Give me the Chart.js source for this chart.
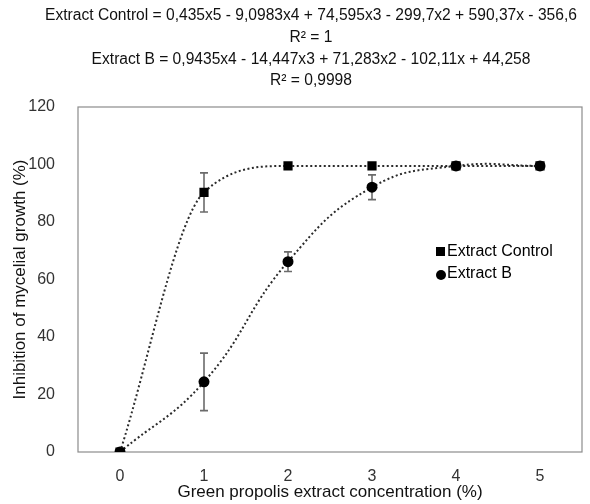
<!DOCTYPE html>
<html>
<head>
<meta charset="utf-8">
<script src="https://cdn.jsdelivr.net/npm/chart.js@4.4.1/dist/chart.umd.min.js"></script>
<style>
  html, body { margin: 0; padding: 0; background: #fff; }
  #wrap { width: 590px; height: 504px; }
</style>
</head>
<body>
<div id="wrap"><canvas id="propolisChart" width="590" height="504"></canvas></div>
<script>
// Chart data
const concentrations = ['0', '1', '2', '3', '4', '5'];
const controlMean = [0, 90.3, 99.5, 99.5, 99.5, 99.5];
const controlErr = [0, 6.8, 0, 0.4, 0, 0];
const extractBMean = [0, 24.4, 66.2, 92.1, 99.5, 99.5];
const extractBErr = [0, 10, 3.4, 4.3, 0, 0];
const yTicks = [0, 20, 40, 60, 80, 100, 120];
const equationLines = [
    'Extract Control = 0,435x5 - 9,0983x4 + 74,595x3 - 299,7x2 + 590,37x - 356,6',
    'R\u00B2 = 1',
    'Extract B = 0,9435x4 - 14,447x3 + 71,283x2 - 102,11x + 44,258',
    'R\u00B2 = 0,9998'
];

const FONT = '"Liberation Sans", Arial, sans-serif';

// frame, error bars, legend and equations
const decorPlugin = {
    id: 'decor',
    beforeDatasetsDraw(chart) {
        const { ctx, chartArea, scales } = chart;
        ctx.save();
        ctx.strokeStyle = '#8c8c8c';
        ctx.lineWidth = 1.2;
        ctx.strokeRect(chartArea.left, chartArea.top, chartArea.width, chartArea.height);

        // error bars
        ctx.strokeStyle = '#6b6b6b';
        ctx.lineWidth = 1.6;
        const drawErr = (means, errs) => {
            means.forEach((m, i) => {
                if (!errs[i]) return;
                const x = scales.x.getPixelForValue(i);
                const yTop = scales.y.getPixelForValue(m + errs[i]);
                const yBot = scales.y.getPixelForValue(m - errs[i]);
                ctx.beginPath();
                ctx.moveTo(x, yTop); ctx.lineTo(x, yBot);
                ctx.moveTo(x - 4, yTop); ctx.lineTo(x + 4, yTop);
                ctx.moveTo(x - 4, yBot); ctx.lineTo(x + 4, yBot);
                ctx.stroke();
            });
        };
        drawErr(controlMean, controlErr);
        drawErr(extractBMean, extractBErr);
        ctx.restore();
    },
    afterDraw(chart) {
        const { ctx } = chart;
        ctx.save();
        ctx.fillStyle = '#111';
        ctx.font = '15.6px ' + FONT;
        ctx.textAlign = 'center';
        ctx.textBaseline = 'middle';
        const lineY = [16, 38, 60, 81];
        equationLines.forEach((t, i) => ctx.fillText(t, 311, lineY[i]));

        // legend
        ctx.font = '16px ' + FONT;
        ctx.textAlign = 'left';
        ctx.fillStyle = '#000';
        ctx.fillRect(436, 247, 9, 9);
        ctx.fillText('Extract Control', 447, 252);
        ctx.beginPath();
        ctx.arc(441, 275, 5, 0, Math.PI * 2);
        ctx.fill();
        ctx.fillText('Extract B', 447, 274);
        ctx.restore();
    }
};

function lineDataset(label, data, pointStyle, radius, mode) {
    return {
        label: label,
        data: data,
        borderColor: '#2b2b2b',
        borderWidth: 2,
        borderDash: [2, 2.5],
        backgroundColor: '#000',
        pointBackgroundColor: '#000',
        pointBorderColor: '#000',
        pointStyle: pointStyle,
        pointRadius: radius,
        pointBorderWidth: 0,
        cubicInterpolationMode: mode,
        tension: 0.45,
        fill: false
    };
}

const ctx = document.getElementById('propolisChart');
new Chart(ctx, {
    type: 'line',
    data: {
        labels: concentrations,
        datasets: [
            lineDataset('Extract Control', controlMean, 'rect', 6.5, 'monotone'),
            lineDataset('Extract B', extractBMean, 'circle', 5.5, 'default')
        ]
    },
    options: {
        responsive: false,
        animation: false,
        devicePixelRatio: 1,
        layout: { padding: { top: 107, right: 8, bottom: 0, left: 0 } },
        plugins: {
            legend: { display: false },
            tooltip: { enabled: false }
        },
        scales: {
            x: {
                type: 'category',
                offset: true,
                grid: { display: false },
                border: { display: false },
                ticks: { color: '#333', font: { size: 16, family: FONT }, padding: 7 },
                title: {
                    display: true,
                    text: 'Green propolis extract concentration (%)',
                    color: '#111',
                    font: { size: 17, family: FONT },
                    padding: { top: 0, bottom: 1 }
                },
                afterFit(scale) { scale.height = 52; }
            },
            y: {
                min: 0,
                max: 120,
                afterBuildTicks(scale) { scale.ticks = yTicks.map(v => ({ value: v })); },
                grid: { display: false },
                border: { display: false },
                ticks: { color: '#333', font: { size: 16, family: FONT }, padding: 15 },
                title: {
                    display: true,
                    text: 'Inhibition of mycelial growth (%)',
                    color: '#111',
                    font: { size: 17, family: FONT },
                    padding: { top: 10, bottom: 0 }
                },
                afterFit(scale) { scale.width = 78; }
            }
        }
    },
    plugins: [decorPlugin]
});
</script>
</body>
</html>
